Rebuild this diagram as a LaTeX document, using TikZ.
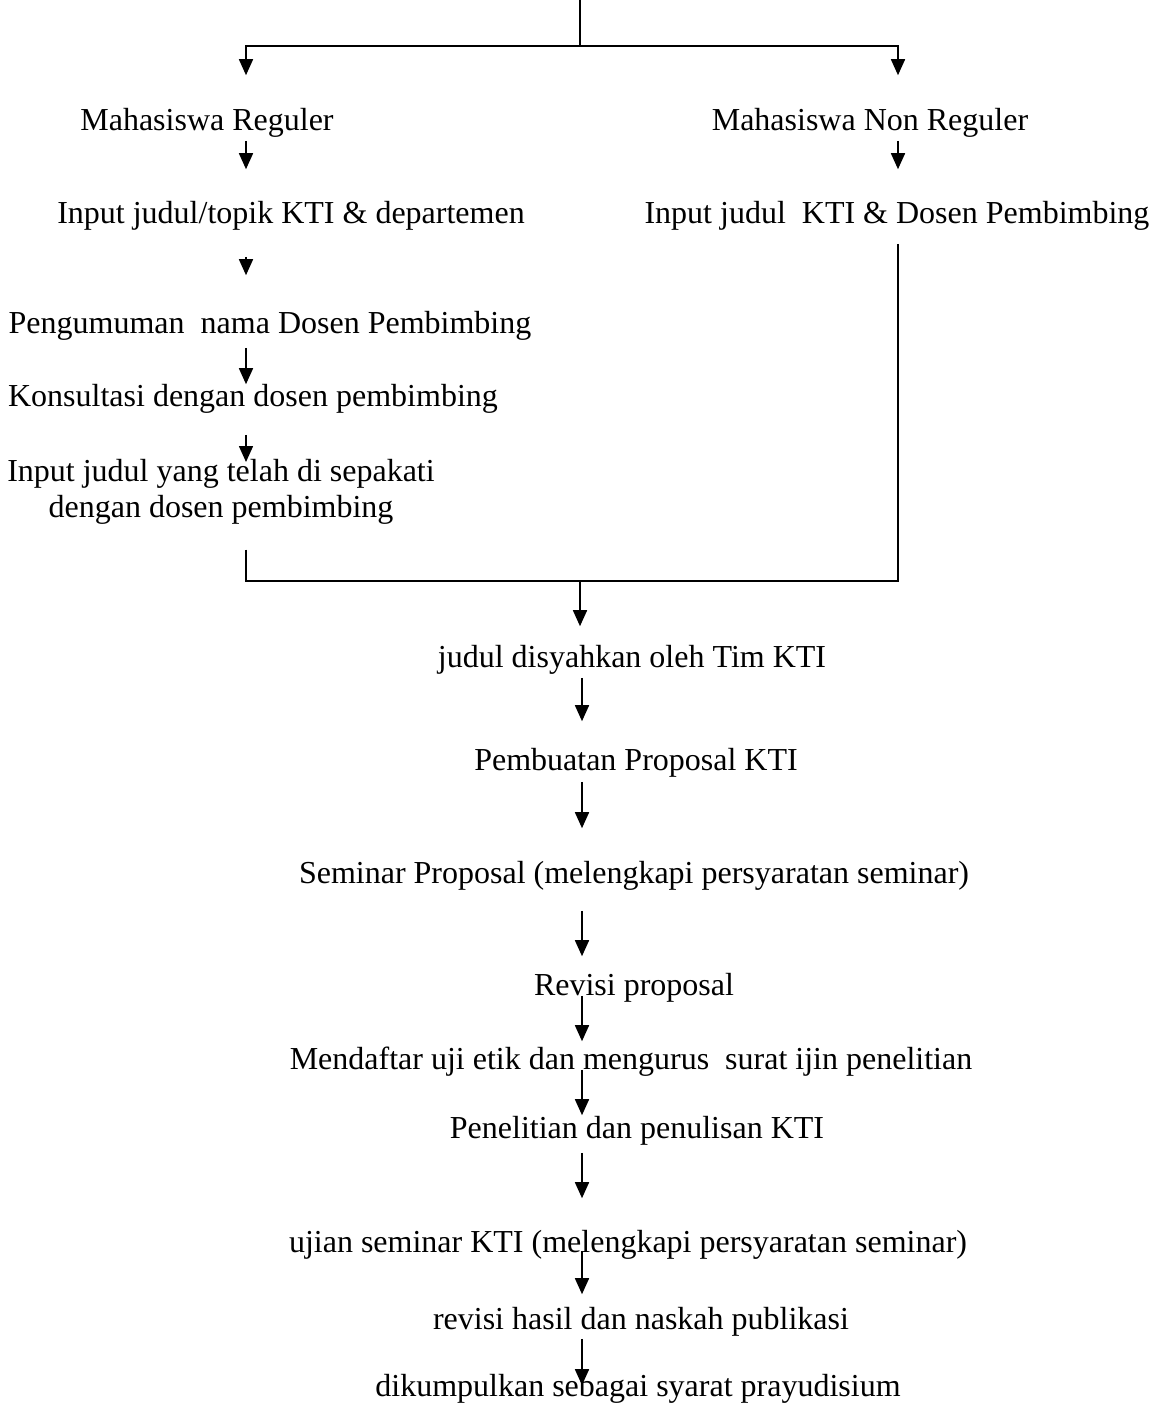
\documentclass[tikz,border=0pt]{standalone}
\usepackage{fontspec}
\setmainfont{Liberation Serif}
\usepackage{tikz}
\usetikzlibrary{arrows.meta,positioning,calc}

\begin{document}
\begin{tikzpicture}[
  x=0.5pt, y=-0.5pt,
  base/.style={inner sep=0pt, font=\fontsize{16}{18}\selectfont, align=center},
  txt/.style={base, text height=11pt, text depth=3.5pt},
  arr/.style={-{Triangle[width=7pt,length=8pt]}},
  line width=0.8pt]
\useasboundingbox (0,0) rectangle (1156,1405);
\coordinate (colL) at (246,0);
\coordinate (colR) at (898,0);
\coordinate (colM) at (582,0);
\coordinate (top) at (580,0);
\coordinate (split) at (580,46);
\coordinate (join) at (580,581);
\node[txt] (reg) at (207,123) {Mahasiswa Reguler};
\node[txt] (nonreg) at (870,123) {Mahasiswa Non Reguler};
\node[txt] (inreg) at (291,216) {Input judul/topik KTI \& departemen};
\node[txt] (innon) at (897,216) {Input judul\ \ KTI \& Dosen Pembimbing};
\node[txt] (umum) at (270,326) {Pengumuman\ \ nama Dosen Pembimbing};
\node[txt] (kons) at (253,399) {Konsultasi dengan dosen pembimbing};
\node[base, anchor=north] (sepakat) at (221,458.5) {Input judul yang telah di sepakati\\dengan dosen pembimbing};
\node[txt] (sah) at (632,660) {judul disyahkan oleh Tim KTI};
\node[txt] (prop) at (636,763) {Pembuatan Proposal KTI};
\node[txt] (sem) at (634,876) {Seminar Proposal (melengkapi persyaratan seminar)};
\node[txt] (rev) at (634,988) {Revisi proposal};
\node[txt] (etik) at (631,1062) {Mendaftar uji etik dan mengurus\ \ surat ijin penelitian};
\node[txt] (teliti) at (637,1131) {Penelitian dan penulisan KTI};
\node[txt] (ujian) at (628,1245) {ujian seminar KTI (melengkapi persyaratan seminar)};
\node[txt] (hasil) at (641,1322) {revisi hasil dan naskah publikasi};
\node[txt] (kumpul) at (638,1389) {dikumpulkan sebagai syarat prayudisium};
\draw (top) -- (split);
\draw[arr, shorten >=16.25pt] (split) -| (reg.north -| colL);
\draw[arr, shorten >=16.25pt] (split) -| (nonreg.north -| colR);
\draw[arr, shorten <=1.25pt, shorten >=15.75pt] (reg.south -| colL) -- (inreg.north -| colL);
\draw[arr, shorten <=1.25pt, shorten >=15.75pt] (nonreg.south -| colR) -- (innon.north -| colR);
\draw[arr, shorten <=12.75pt, shorten >=17.75pt] (inreg.south -| colL) -- (umum.north -| colL);
\draw[arr, shorten <=3.25pt, shorten >=-0.25pt] (umum.south -| colL) -- (kons.north -| colL);
\draw[arr, shorten <=10.25pt, shorten >=-1.75pt] (kons.south -| colL) -- (sepakat.north -| colL);
\draw[shorten <=6.25pt] (innon.south -| colR) |- (join);
\draw[shorten <=12.25pt] (sepakat.south -| colL) |- (join);
\draw[arr, shorten >=9.25pt] (join) -- (sah.north -| join);
\draw[arr, shorten <=1.25pt, shorten >=13.25pt] (sah.south -| colM) -- (prop.north -| colM);
\draw[arr, shorten <=1.75pt, shorten >=16.25pt] (prop.south -| colM) -- (sem.north -| colM);
\draw[arr, shorten <=9.75pt, shorten >=8.25pt] (sem.south -| colM) -- (rev.north -| colM);
\draw[arr, shorten <=-3.75pt, shorten >=2.75pt] (rev.south -| colM) -- (etik.north -| colM);
\draw[arr, shorten <=-3.75pt, shorten >=0.25pt] (etik.south -| colM) -- (teliti.north -| colM);
\draw[arr, shorten <=3.25pt, shorten >=15.75pt] (teliti.south -| colM) -- (ujian.north -| colM);
\draw[arr, shorten <=-4.75pt, shorten >=6.25pt] (ujian.south -| colM) -- (hasil.north -| colM);
\draw[arr, shorten <=0.75pt, shorten >=-5.75pt] (hasil.south -| colM) -- (kumpul.north -| colM);
\end{tikzpicture}
\end{document}
